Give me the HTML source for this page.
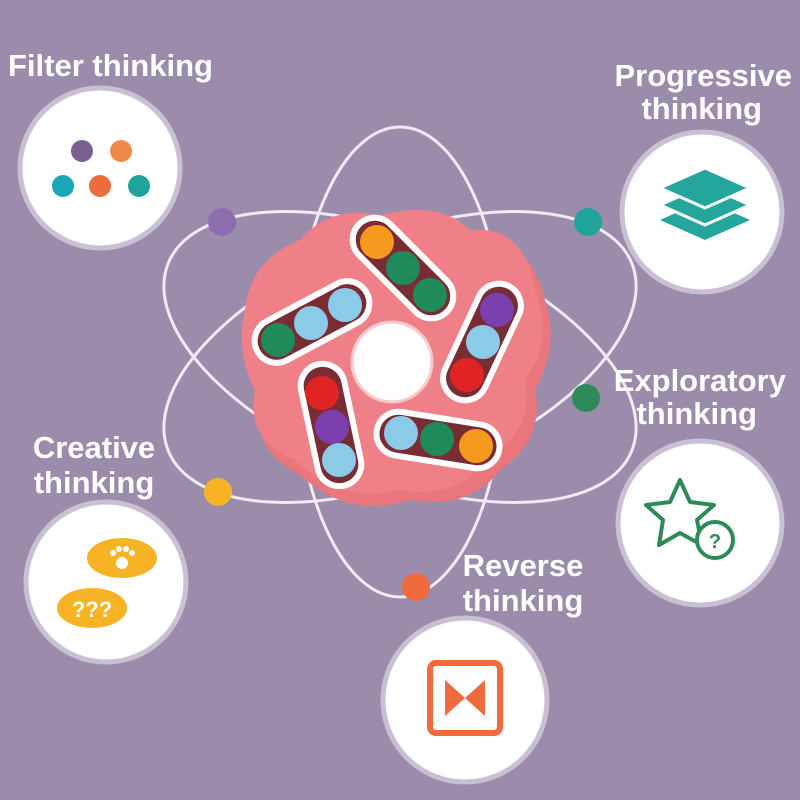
<!DOCTYPE html><html><head><style>body{margin:0}svg{display:block}text{font-family:"Liberation Sans",sans-serif;font-weight:bold;fill:#fff}</style></head><body>
<svg width="800" height="800" viewBox="0 0 800 800">
<rect width="800" height="800" fill="#9b8cab"/>
<g fill="none" stroke="#efeaf3" stroke-width="3">
<ellipse cx="400" cy="357" rx="250" ry="120" transform="rotate(-22 400 357)"/>
<ellipse cx="400" cy="357" rx="250" ry="120" transform="rotate(22 400 357)"/>
<ellipse cx="400" cy="362" rx="105" ry="235"/>
</g>
<g fill="#fff" stroke="#c9c0d3" stroke-width="5">
<circle cx="100" cy="168" r="80"/><circle cx="702" cy="212" r="80"/>
<circle cx="700" cy="523" r="82"/><circle cx="106" cy="582" r="80"/>
<circle cx="465" cy="700" r="82"/></g>
<circle cx="222" cy="222" r="14" fill="#8e6cb0"/><circle cx="588" cy="222" r="14" fill="#20a39a"/>
<circle cx="586" cy="398" r="14" fill="#2e8a58"/><circle cx="218" cy="492" r="14" fill="#f6b425"/>
<circle cx="416" cy="587" r="14" fill="#ef6a3c"/>
<path d="M250 330 Q240 270 300 250 Q330 215 380 220 Q440 205 470 240 Q530 235 545 300 Q560 345 535 390 Q545 440 500 470 Q470 510 410 500 Q350 520 300 475 Q250 450 260 400 Q240 370 250 330Z" fill="#e9767c"/>
<path d="M245 310 Q250 260 300 240 Q330 205 380 215 Q440 200 470 230 Q525 225 535 290 Q555 340 525 380 Q535 430 490 455 Q460 500 400 490 Q340 505 295 460 Q245 440 255 390 Q235 350 245 310Z" fill="#f08088"/>
<circle cx="392" cy="362" r="40" fill="#fff" stroke="#f6c9cc" stroke-width="3"/>
<g stroke="#fff" stroke-width="6" fill="#7a2c34">
<rect x="-62" y="-22" width="124" height="44" rx="22" transform="translate(403 268) rotate(45)"/>
<rect x="-62" y="-22" width="124" height="44" rx="22" transform="translate(312 322) rotate(-28)"/>
<rect x="-62" y="-22" width="124" height="44" rx="22" transform="translate(482 342) rotate(-65)"/>
<rect x="-62" y="-22" width="124" height="44" rx="22" transform="translate(331 425) rotate(78)"/>
<rect x="-62" y="-22" width="124" height="44" rx="22" transform="translate(438 440) rotate(9)"/>
</g>
<g>
<circle cx="377" cy="242" r="17" fill="#f59a1e"/><circle cx="403" cy="268" r="17" fill="#1f8a5a"/><circle cx="430" cy="295" r="17" fill="#1f8a5a"/>
<circle cx="278" cy="340" r="17" fill="#1f8a5a"/><circle cx="311" cy="323" r="17" fill="#8ccbe8"/><circle cx="345" cy="305" r="17" fill="#8ccbe8"/>
<circle cx="497" cy="310" r="17" fill="#7b3fb0"/><circle cx="483" cy="342" r="17" fill="#8ccbe8"/><circle cx="467" cy="375" r="17" fill="#e02424"/>
<circle cx="322" cy="393" r="17" fill="#e02424"/><circle cx="332" cy="427" r="17" fill="#7b3fb0"/><circle cx="339" cy="460" r="17" fill="#8ccbe8"/>
<circle cx="401" cy="433" r="17" fill="#8ccbe8"/><circle cx="437" cy="439" r="17" fill="#1f8a5a"/><circle cx="476" cy="446" r="17" fill="#f59a1e"/>
</g>
<circle cx="82" cy="151" r="11" fill="#7a6090"/><circle cx="121" cy="151" r="11" fill="#f0884a"/>
<circle cx="63" cy="186" r="11" fill="#1aa6b7"/><circle cx="100" cy="186" r="11" fill="#ef6a3c"/><circle cx="139" cy="186" r="11" fill="#20a39a"/>
<g fill="#25a69c"><path d="M660 220 L705 200 L750 220 L705 240Z"/><path d="M660 205 L705 185 L750 205 L705 225Z" stroke="#fff" stroke-width="3"/><path d="M660 188 L705 168 L750 188 L705 208Z" stroke="#fff" stroke-width="3"/></g>
<path d="M680 480 L690 502 L714 505 L697 520 L702 545 L680 533 L659 545 L663 520 L646 505 L670 502Z" fill="none" stroke="#2e8a58" stroke-width="4" stroke-linejoin="round"/>
<circle cx="715" cy="540" r="18" fill="#fff" stroke="#2e8a58" stroke-width="4"/>
<text x="715" y="548" font-size="20" text-anchor="middle" style="fill:#2e8a58">?</text>
<ellipse cx="122" cy="558" rx="35" ry="20" fill="#f6b425"/><ellipse cx="92" cy="608" rx="35" ry="20" fill="#f6b425"/>
<g fill="#fff"><circle cx="122" cy="563" r="6"/><circle cx="113" cy="553" r="3"/><circle cx="119" cy="549" r="3"/><circle cx="126" cy="549" r="3"/><circle cx="132" cy="553" r="3"/></g>
<text x="92" y="617" font-size="22" text-anchor="middle">???</text>
<rect x="430" y="663" width="70" height="70" rx="6" fill="none" stroke="#ef6a3c" stroke-width="6"/>
<path d="M445 680 L465 698 L485 680 L485 716 L465 698 L445 716Z" fill="#ef6a3c"/>
<g font-size="31">
<text x="8" y="76">Filter thinking</text>
<text x="792" y="86" text-anchor="end">Progressive</text><text x="762" y="119" text-anchor="end">thinking</text>
<text x="786" y="391" text-anchor="end">Exploratory</text><text x="757" y="424" text-anchor="end">thinking</text>
<text x="94" y="458" text-anchor="middle">Creative</text><text x="94" y="493" text-anchor="middle">thinking</text>
<text x="523" y="576" text-anchor="middle">Reverse</text><text x="523" y="611" text-anchor="middle">thinking</text>
</g>
</svg></body></html>
